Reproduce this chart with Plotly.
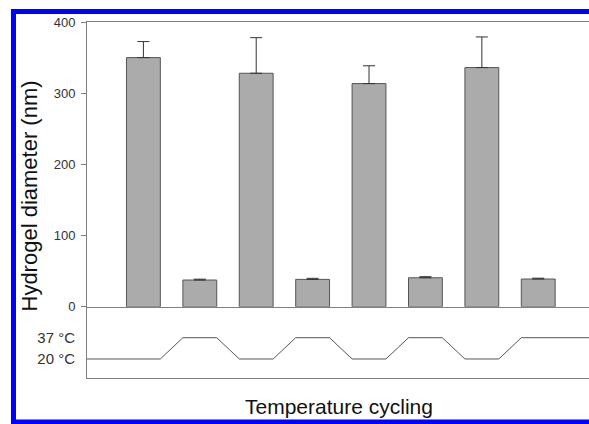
import plotly.graph_objects as go

# ---- data ----
cycle_steps = [1, 2, 3, 4, 5, 6, 7, 8]
diameter_nm = [350, 37.6, 328, 38.5, 313.5, 40.8, 336, 39]
error_nm = [22.5, 1.2, 50, 1.5, 25, 1.5, 43, 1.2]
temperature_c = [20, 37, 20, 37, 20, 37, 20, 37]
y_ticks = [0, 100, 200, 300, 400]
temp_ticks = [37, 20]
temp_tick_labels = ["37 °C", "20 °C"]

W, H = 589, 424
ML, MR, MT, MB = 87, 0, 22, 424 - 378
BAR_W = 0.6
X_MAX = 8.9

# temperature profile: flat under each bar, ramps between bars
tx, ty = [0], [temperature_c[0]]
for s, t in zip(cycle_steps, temperature_c):
    tx += [s - BAR_W / 2, s + BAR_W / 2]
    ty += [t, t]
tx.append(X_MAX)
ty.append(temperature_c[-1])

fig = go.Figure()
fig.add_trace(go.Bar(
    x=cycle_steps, y=diameter_nm, width=BAR_W,
    marker=dict(color="#ababab", line=dict(color="#555555", width=1)),
    error_y=dict(type="data", array=error_nm, arrayminus=[0] * len(error_nm),
                 symmetric=False, color="#333333", thickness=1, width=6),
    xaxis="x", yaxis="y", showlegend=False,
))
fig.add_trace(go.Scatter(
    x=tx, y=ty, mode="lines", line=dict(color="#555555", width=1),
    xaxis="x2", yaxis="y2", showlegend=False,
))

axis_col = "#808080"
tick_font = dict(family="Arial, Liberation Sans, sans-serif", size=13, color="#333333")
temp_font = dict(family="Arial, Liberation Sans, sans-serif", size=15, color="#333333")

pw = W - ML - MR
ph = H - MT - MB


def px_x(p):
    return (p - ML) / pw


def px_y(p):
    return (H - MB - p) / ph


blue = dict(color="#0000ff", width=5)
fig.update_layout(
    width=W, height=H,
    margin=dict(l=ML, r=MR, t=MT, b=MB),
    paper_bgcolor="white", plot_bgcolor="white",
    bargap=0.4,
    xaxis=dict(domain=[0, 1], range=[0, X_MAX], anchor="y",
               showline=True, linecolor=axis_col, linewidth=1, mirror=True,
               showticklabels=False, ticks="", showgrid=False, zeroline=False),
    yaxis=dict(domain=[0.2, 1], range=[0, 400], anchor="x",
               tickvals=y_ticks, ticks="outside", ticklen=5, tickcolor=axis_col,
               ticklabelstandoff=3,
               showline=True, linecolor=axis_col, linewidth=1,
               showgrid=False, zeroline=False, tickfont=tick_font),
    xaxis2=dict(domain=[0, 1], range=[0, X_MAX], anchor="y2",
                showline=True, linecolor=axis_col, linewidth=1,
                showticklabels=False, ticks="", showgrid=False, zeroline=False),
    yaxis2=dict(domain=[0, 0.2], range=[4.8, 61.7], anchor="x2",
                tickvals=temp_ticks, ticktext=temp_tick_labels, ticks="",
                ticklabelstandoff=8,
                showline=True, linecolor=axis_col, linewidth=1,
                showgrid=False, zeroline=False, tickfont=temp_font),
    annotations=[
        dict(text="Temperature cycling", xref="paper", yref="paper",
             x=px_x(339), y=px_y(406), xanchor="center", yanchor="middle",
             showarrow=False,
             font=dict(family="Arial, Liberation Sans, sans-serif", size=21, color="#111111")),
        dict(text="Hydrogel diameter (nm)", xref="paper", yref="paper",
             x=px_x(28.5), y=px_y(196), xanchor="center", yanchor="middle",
             textangle=-90, showarrow=False,
             font=dict(family="Arial, Liberation Sans, sans-serif", size=22, color="#111111")),
    ],
    shapes=[
        dict(type="line", xref="paper", yref="paper",
             x0=px_x(13.5), x1=px_x(13.5), y0=px_y(9), y1=px_y(424),
             line=blue, layer="above"),
        dict(type="line", xref="paper", yref="paper",
             x0=px_x(11), x1=px_x(589), y0=px_y(11.5), y1=px_y(11.5),
             line=blue, layer="above"),
        dict(type="line", xref="paper", yref="paper",
             x0=px_x(11), x1=px_x(589), y0=px_y(422), y1=px_y(422),
             line=blue, layer="above"),
    ],
)

fig.write_html(
    "out.html",
    config={"displayModeBar": False},
    post_script="document.body.style.margin='0';document.body.style.overflow='hidden';",
)
